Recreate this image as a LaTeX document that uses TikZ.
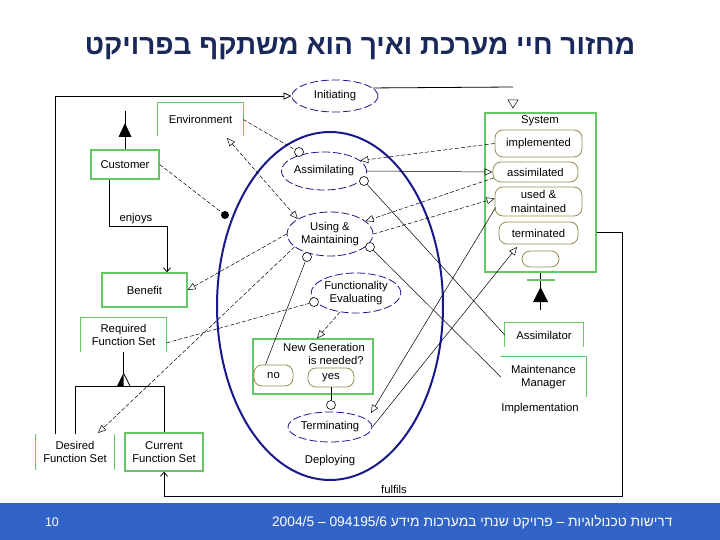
\documentclass[tikz,border=0pt]{standalone}
\usepackage{fontspec}
\setmainfont{Liberation Sans}
\newfontfamily\hebfont[Script=Hebrew]{Liberation Sans}
\usetikzlibrary{shapes.geometric,arrows.meta,calc}
\TeXXeTstate=1
\definecolor{navy}{RGB}{25,25,140}
\definecolor{gcol}{RGB}{100,200,100}
\definecolor{olivec}{RGB}{150,140,80}
\definecolor{titlecol}{RGB}{25,40,90}
\definecolor{footblue}{RGB}{50,100,200}
\tikzset{
  lbl/.style={font=\fontsize{11.3}{13.5}\selectfont, align=center, inner sep=0pt},
  gbox/.style={lbl, draw=gcol, line width=1.3pt},
  gln/.style={draw=gcol, line width=1.3pt},
  uc/.style={lbl, ellipse, draw=navy, line width=0.8pt, dash pattern=on 8pt off 3pt},
  stbox/.style={lbl, draw=olivec, line width=0.8pt, rounded corners=8pt},
  ln/.style={line width=0.5pt},
  dln/.style={line width=0.5pt, dash pattern=on 4pt off 2pt},
  fr/.style={line width=0.8pt},
  ot/.style={-{Triangle[open,length=8pt,width=7pt]}},
  oc/.style={circle, draw, line width=0.6pt, fill=white, minimum size=9pt, inner sep=0pt},
  barb/.style={-{Straight Barb[length=4pt,width=7pt]}}
}
\begin{document}
\begin{tikzpicture}[x=1pt,y=-1pt]
\useasboundingbox (0,0) rectangle (720,540);
% title
\node[font=\hebfont\bfseries\fontsize{28}{32}\selectfont, text=titlecol] (title) at (360,48) {\beginR מחזור חיי מערכת ואיך הוא משתקף בפרויקט\endR};
% footer
\fill[footblue] (0,503) rectangle (720,540);
\node[text=white, font=\fontsize{12.5}{14}\selectfont] (pnum) at (52,522) {10};
\node[anchor=east, text=white, font=\hebfont\fontsize{13.8}{15}\selectfont] (foot) at (676,522) {\beginR דרישות טכנולוגיות – פרויקט שנתי במערכות מידע \beginL 094195/6\endL{} – \beginL 2004/5\endL\endR};

% big life-cycle ellipse
\node[ellipse, draw=navy, line width=2pt, minimum width=226pt, minimum height=348pt, inner sep=0pt] (life) at (330,306) {};

% use cases
\node[uc, minimum width=86pt, minimum height=32pt] (init) at (335,96) {Initiating};
\node[uc, minimum width=84pt, minimum height=38pt] (assim) at (324,171) {Assimilating};
\node[uc, minimum width=86pt, minimum height=44pt] (using) at (330,234) {Using \&\\Maintaining};
\node[uc, minimum width=88pt, minimum height=40pt] (fe) at (356,293) {Functionality\\Evaluating};
\node[uc, minimum width=84pt, minimum height=30pt] (term) at (330,427) {Terminating};
\node[lbl] (deploy) at (330,461) {Deploying};

% left side boxes
\node[lbl, minimum width=85pt, minimum height=33pt] (env) at (200.5,119.5) {Environment};
\draw[gln] (env.south west) |- (env.north east) -- (env.south east);
\node[gbox, minimum width=68pt, minimum height=29pt] (cust) at (125,164.5) {Customer};
\node[gbox, minimum width=85pt, minimum height=34pt] (ben) at (144.5,290) {Benefit};
\node[lbl, minimum width=85pt, minimum height=34pt] (req) at (123.5,335) {Required\\Function Set};
\draw[gln] (req.south west) |- (req.north east) -- (req.south east);
\node[lbl, minimum width=78pt, minimum height=36pt] (des) at (75,452) {Desired\\Function Set};
\draw[gln] (des.north west) -- (des.south west);
\draw[gln] (des.north east) -- (des.south east);
\node[gbox, minimum width=78pt, minimum height=38pt] (cur) at (164,452) {Current\\Function Set};
\node[lbl] (enjoys) at (136,219) {enjoys};
\node[lbl] (fulfils) at (394,489) {fulfils};

% system box
\node[gbox, minimum width=111pt, minimum height=159pt] (sys) at (540.5,192.5) {};
\node[lbl] (systxt) at (540,121) {System};
\node[stbox, minimum width=87pt, minimum height=27pt] (impl) at (538.5,143.5) {implemented};
\node[stbox, minimum width=85pt, minimum height=20pt] (assimd) at (535.5,172) {assimilated};
\node[stbox, minimum width=87pt, minimum height=29pt] (um) at (538.5,201.5) {used \&\\maintained};
\node[stbox, minimum width=79pt, minimum height=22pt] (termd) at (538.5,233) {terminated};
\node[stbox, minimum width=37pt, minimum height=16pt] (emp) at (540.5,259) {};

% right side boxes
\node[lbl, minimum width=78pt, minimum height=24pt] (asm) at (544,335) {Assimilator};
\draw[gln] (asm.south west) |- (asm.north east) -- (asm.south east);
\node[lbl, minimum width=85pt, minimum height=40pt] (mm) at (543.5,377) {Maintenance\\Manager};
\draw[gln] (mm.north west) -- (mm.north east) -- (mm.south east);
\node[lbl] (impt) at (540,409) {Implementation};

% new generation decision
\node[gbox, minimum width=120pt, minimum height=55pt] (ng) at (313,366.5) {};
\node[lbl] (ngt) at (324,347) {New Generation};
\node[lbl] (ngt2) at (336,360) {is needed?};
\node[stbox, minimum width=39pt, minimum height=21pt] (no) at (273.5,375.5) {no};
\node[stbox, minimum width=46pt, minimum height=19pt] (yes) at (331,377.5) {yes};

% small circles and dot
\node[oc] (c1) at (299,152) {};
\node[oc] (c2) at (364,181) {};
\node[oc] (c3) at (370,247) {};
\node[oc] (c4) at (307,257) {};
\node[oc] (c5) at (314,302) {};
\node[oc] (c6) at (331,405) {};
\node[circle, fill, minimum size=8pt, inner sep=0pt] (dot) at (225,215) {};

% free ends
\coordinate (envb) at (227,138);
\coordinate (desA) at (98,433);
\coordinate (tA) at (371,413);
\coordinate (tdB) at (517,247);
\coordinate (sysT) at (513,87);

% frame connectors
\draw[fr, ot] ($(des.north west)+(20,0)$) |- (init.west);
\draw[fr] (init.12) -- (sysT);
\draw[ln, fill=white] (508,100) -- (518,100) -- (513,108) -- cycle;
\draw[fr] (cust.north) -- (125,111);
\fill (125,123) -- (118.5,137) -- (131.5,137) -- cycle;
\draw[fr, barb] ($(cust.south)+(-16,0)$) |- (167,226) -- (ben.north -| 167,0);
\draw[fr] (req.south) -- (123.5,373);
\fill (123.5,373) -- (117,386) -- (123.5,386) -- cycle;
\draw[fr] (123.5,373) -- (130,386);
\draw[fr] (des.north) |- ($(req.south)+(0,34)$) -| (cur.north);
\draw[fr, barb] ($(sys.east)+(0,39.5)$) -- (622,232) -- (622,496) -| (cur.south);
\draw[fr] (sys.south) -- (540.5,310);
\draw[gcol, line width=2pt] (527,280) -- (555,280);
\fill (540.5,287) -- (533,302) -- (548,302) -- cycle;

% inner connectors
\draw[dln] (env.east) -- (c1);
\draw[dln, {Triangle[open,length=8pt,width=7pt]}-{Triangle[open,length=8pt,width=7pt]}] (envb) -- (using.155);
\draw[dln] (cust.east) -- (dot);
\draw[dln, ot] (impl.west) -- (assim.16);
\draw[ln, ot] (assim.east) -- (assimd.west);
\draw[dln, ot] ($(assimd.west)+(1,6)$) -- (using.20);
\draw[dln, ot] (using.east) -- ($(um.west)+(0,-3)$);
\draw[ln] (c2) -- (asm.west);
\draw[ln] (c3) -- (mm.west);
\draw[dln, ot] (using.west) -- (ben.east);
\draw[dln, ot] (using.200) -- (desA);
\draw[ln] (c4) -- ($(no.north)+(-8,0)$);
\draw[dln] (c5) -- ($(req.east)+(0,8)$);
\draw[dln, ot] (fe.230) -- ($(ng.north)+(4,0)$);
\draw[fr] (yes.south) -- (c6);
\draw[ln, ot] ($(um.west)+(1,6)$) -- (tA);
\draw[ln, ot] (term.east) -- (tdB);
\end{tikzpicture}
\end{document}
